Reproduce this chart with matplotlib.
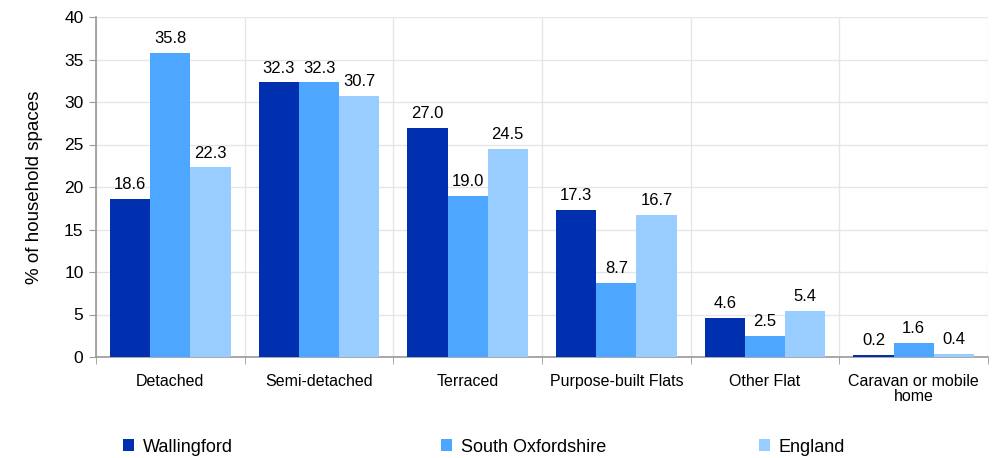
import matplotlib
matplotlib.use("Agg")
import matplotlib.pyplot as plt
import numpy as np

categories = ["Detached", "Semi-detached", "Terraced", "Purpose-built Flats", "Other Flat", "Caravan or mobile\nhome"]
series_names = ["Wallingford", "South Oxfordshire", "England"]
wallingford = [18.6, 32.3, 27.0, 17.3, 4.6, 0.2]
south_oxon = [35.8, 32.3, 19.0, 8.7, 2.5, 1.6]
england = [22.3, 30.7, 24.5, 16.7, 5.4, 0.4]
yticks = [0, 5, 10, 15, 20, 25, 30, 35, 40]

colors = ["#0030B0", "#4DA6FF", "#99CCFF"]

plt.rcParams['font.family'] = ['Liberation Sans', 'DejaVu Sans']

fig = plt.figure(figsize=(9.92, 4.58), dpi=100)
ax = fig.add_axes([96/992, 1-357/458, (988-96)/992, (357-17)/458])

x = np.arange(len(categories))
w = 0.27
data = [wallingford, south_oxon, england]
for i, (vals, c, name) in enumerate(zip(data, colors, series_names)):
    bars = ax.bar(x + (i-1)*w, vals, width=w, color=c, label=name, zorder=3)
    for b, v in zip(bars, vals):
        ax.annotate(f"{v:.1f}", (b.get_x()+b.get_width()/2, v), xytext=(0, 5),
                    textcoords="offset points", ha="center", va="bottom", fontsize=12, color="#000000")

ax.set_xlim(-0.5, len(categories)-0.5)
ax.set_ylim(0, 40)
ax.set_yticks(yticks)
ax.set_yticklabels([str(t) for t in yticks], fontsize=12.5)
ax.set_xticks(x)
ax.set_xticklabels(categories, fontsize=11.5, linespacing=1.05)
ax.set_xticks(np.arange(-0.5, len(categories)), minor=True)
ax.tick_params(axis='x', which='major', length=0, pad=12)
ax.tick_params(axis='x', which='minor', length=5, color='#999999', direction='out')
ax.tick_params(axis='y', length=5, color='#999999', direction='out', pad=4)
ax.grid(axis='y', color='#E6E6E6', linewidth=1, zorder=0)
ax.grid(axis='x', which='minor', color='#E6E6E6', linewidth=1, zorder=0)
for s in ['top', 'right']:
    ax.spines[s].set_visible(False)
for s in ['left', 'bottom']:
    ax.spines[s].set_color('#999999')
    ax.spines[s].set_linewidth(1.2)
ax.set_ylabel("% of household spaces", fontsize=13.5, labelpad=15)

handles, labels = ax.get_legend_handles_labels()
xs = [123, 441, 759]
for h, l, xp in zip(handles, labels, xs):
    fig.legend([h], [l], loc='center left', bbox_to_anchor=(xp/992, 1-447/458), frameon=False,
               fontsize=13, handlelength=0.6, handleheight=0.6, handletextpad=0.5, borderaxespad=0, borderpad=0)

fig.savefig("out.png", dpi=100)
